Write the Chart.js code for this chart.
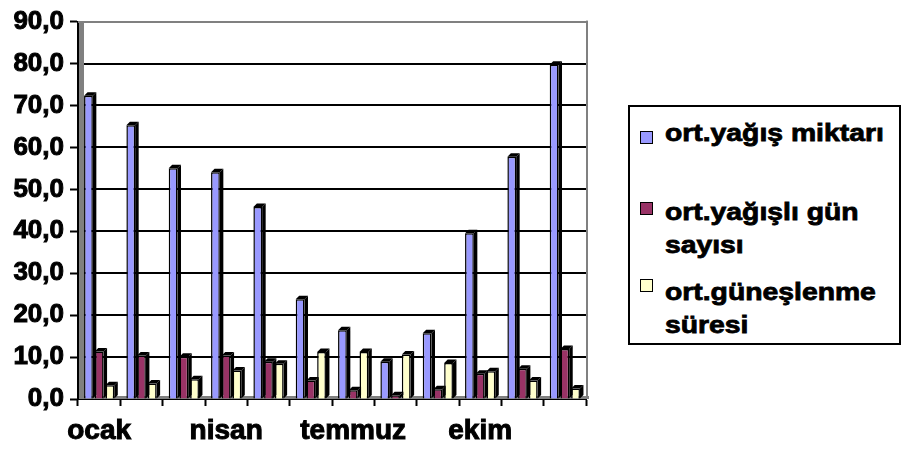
<!DOCTYPE html>
<html lang="tr">
<head>
<meta charset="utf-8">
<script src="https://cdn.jsdelivr.net/npm/chart.js@4"></script>
<style>
  html, body { margin: 0; padding: 0; background: #fff; }
  #wrap { position: relative; width: 904px; height: 450px; overflow: hidden; }
  #c { position: absolute; left: 0; top: 0; }
  #legend {
    position: absolute; left: 628px; top: 105px; width: 269px; height: 236px;
    border: 2px solid #000; background: #fff;
    font-family: "Liberation Sans", Arial, sans-serif; font-weight: 700; color: #000;
  }
  .item { position: absolute; left: 0; width: 270px; }
  .sw { position: absolute; left: 10px; width: 11px; height: 11px; border: 1.5px solid #000; }
  .txt {
    position: absolute; left: 35px; width: 195px; font-size: 24px; line-height: 33px;
    font-weight: 700; -webkit-text-stroke: 0.8px #000;
    transform: scaleX(1.18); transform-origin: 0 0; white-space: normal;
  }
</style>
</head>
<body>
<div id="wrap">
  <canvas id="c" width="904" height="450"></canvas>
  <div id="legend"></div>
</div>
<script>
// Aylar (eksende her üçüncü ay yazılır)
const months = ['ocak', 'şubat', 'mart', 'nisan', 'mayıs', 'haziran',
                'temmuz', 'ağustos', 'eylül', 'ekim', 'kasım', 'aralık'];

// Seri adları
const seriesNames = ['ort.yağış miktarı', 'ort.yağışlı gün sayısı', 'ort.güneşlenme süresi'];

// Aylık ortalamalar
const rainAmount = [72.3, 65.3, 55.0, 54.1, 45.8, 23.8, 16.4, 8.9, 15.7, 39.5, 57.8, 79.7];
const rainyDays  = [11.3, 10.4, 10.1, 10.4, 8.9, 4.4, 2.1, 0.9, 2.3, 6.0, 7.2, 11.9];
const sunHours   = [3.3, 3.7, 4.7, 6.8, 8.4, 11.2, 11.2, 10.6, 8.6, 6.6, 4.4, 2.5];

// Y ekseni sınırları
const yMin = 0, yMax = 90, yStep = 10;

const colors = ['#9999FF', '#993366', '#FFFFCC'];
const FONT = '"Liberation Sans", Arial, sans-serif';

// Sütunlara derinlik (üst ve sağ yüz) çizer
const depthBars = {
  id: 'depthBars',
  afterDatasetDraw(chart, args) {
    const ctx = chart.ctx;
    const d = 3.5;
    ctx.save();
    args.meta.data.forEach(el => {
      const p = el.getProps(['x', 'y', 'base', 'width'], true);
      const l = p.x - p.width / 2, r = p.x + p.width / 2;
      ctx.fillStyle = '#000';
      ctx.beginPath();
      ctx.moveTo(r, p.y);
      ctx.lineTo(r + d, p.y - d);
      ctx.lineTo(r + d, p.base - d);
      ctx.lineTo(r, p.base);
      ctx.closePath();
      ctx.fill();
      ctx.beginPath();
      ctx.moveTo(l, p.y);
      ctx.lineTo(l + d, p.y - d);
      ctx.lineTo(r + d, p.y - d);
      ctx.lineTo(r, p.y);
      ctx.closePath();
      ctx.fill();
    });
    ctx.restore();
  }
};

// Arka duvar çizgileri, gri sol duvar, zemin ve kenarlar
const walls = {
  id: 'walls',
  beforeDatasetsDraw(chart) {
    const { ctx, chartArea: a } = chart;
    const ys = chart.scales.y;
    ctx.save();
    for (let v = yMin + yStep; v <= yMax; v += yStep) {
      const py = Math.round(ys.getPixelForValue(v));
      ctx.fillStyle = v === yMax ? '#808080' : '#000000';
      ctx.fillRect(a.left, py - 1, a.right - a.left + 2, 2);
    }
    ctx.fillStyle = '#808080';
    ctx.fillRect(a.left + 1, a.top, 5, a.bottom - a.top);
    ctx.fillRect(a.left + 1, a.bottom - 3, a.right - a.left + 2, 3);
    ctx.fillRect(a.right, a.top - 1, 2, a.bottom - a.top);
    ctx.restore();
  }
};

const values = [rainAmount, rainyDays, sunHours];

const chart = new Chart(document.getElementById('c'), {
  type: 'bar',
  data: {
    labels: months,
    datasets: seriesNames.map((name, i) => ({
      label: name,
      data: values[i],
      backgroundColor: colors[i],
      borderColor: '#000',
      borderWidth: 1.5,
      categoryPercentage: 0.76,
      barPercentage: 0.82
    }))
  },
  options: {
    responsive: false,
    animation: false,
    devicePixelRatio: 1,
    layout: { padding: { top: 18, right: 318, left: 0, bottom: 0 } },
    plugins: { legend: { display: false }, tooltip: { enabled: false } },
    scales: {
      x: {
        grid: {
          display: true, drawOnChartArea: false, drawTicks: true,
          tickLength: 7, tickColor: '#000', tickWidth: 2, offset: true
        },
        border: { color: '#000', width: 2 },
        ticks: {
          autoSkip: false, maxRotation: 0, minRotation: 0, padding: 8, color: '#000',
          textStrokeColor: '#000', textStrokeWidth: 1,
          font: { family: FONT, size: 28, weight: 'bold' },
          callback: (v, i) => (i % 3 === 0 ? months[i] : '')
        },
        afterFit: s => { s.height = 51; }
      },
      y: {
        min: yMin, max: yMax,
        grid: {
          drawOnChartArea: false, drawTicks: true,
          tickLength: 8, tickColor: '#000', tickWidth: 2
        },
        border: { color: '#000', width: 2 },
        ticks: {
          stepSize: yStep, padding: 6, color: '#000',
          textStrokeColor: '#000', textStrokeWidth: 1,
          font: { family: FONT, size: 26, weight: 'bold' },
          callback: v => Number(v).toFixed(1).replace('.', ',')
        },
        afterFit: s => { s.width = 78; }
      }
    }
  },
  plugins: [walls, depthBars]
});

// Açıklama kutusu
const legendPos = [
  { sw: 24, txt: 9 },
  { sw: 95, txt: 88 },
  { sw: 172, txt: 168 }
];
const legend = document.getElementById('legend');
chart.data.datasets.forEach((ds, i) => {
  const item = document.createElement('div');
  item.className = 'item';
  const sw = document.createElement('div');
  sw.className = 'sw';
  sw.style.top = legendPos[i].sw + 'px';
  sw.style.background = ds.backgroundColor;
  const txt = document.createElement('div');
  txt.className = 'txt';
  txt.style.top = legendPos[i].txt + 'px';
  txt.textContent = ds.label;
  item.appendChild(sw);
  item.appendChild(txt);
  legend.appendChild(item);
});
</script>
</body>
</html>
